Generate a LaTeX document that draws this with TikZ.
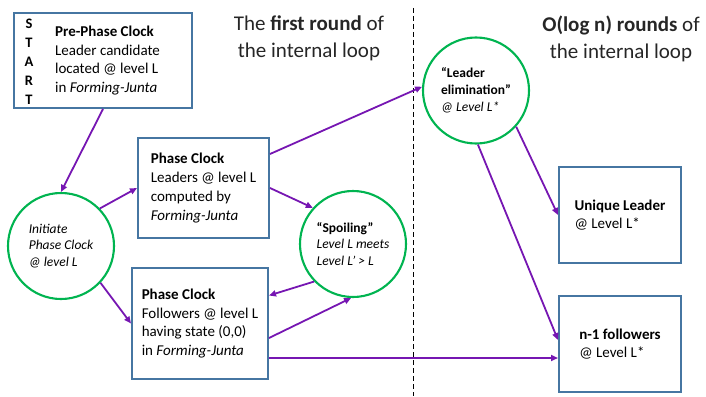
\documentclass[tikz,border=0pt]{standalone}
\usepackage{fontspec}
\setmainfont{Carlito}
\usepackage{color}
\definecolor{mypurple}{RGB}{118,22,178}
\definecolor{mygreen}{RGB}{0,180,80}
\definecolor{myblue}{RGB}{70,118,162}
\usepackage{tikz}
\usetikzlibrary{arrows.meta,positioning,calc}

\begin{document}
\begin{tikzpicture}[
  x=1pt,
  y=-1pt,
  mybox/.style={
    draw=myblue,
    line width=2pt,
    fill=white,
    align=left,
    inner sep=0pt,
    font=\fontsize{15}{18.8}\selectfont
    },
  mytext/.style={
    align=left,
    inner sep=0pt,
    font=\fontsize{15}{18.8}\selectfont
    },
  mycircle/.style={
    circle,
    draw=mygreen,
    line width=2.1pt,
    fill=white,
    minimum size=106pt,
    inner sep=0pt,
    align=left,
    font=\itshape\fontsize{13.5}{16.2}\selectfont
    },
  myarrow/.style={
    draw=mypurple,
    line width=1.8pt,
    -{Triangle[length=7pt,width=6pt]}
    },
  heading/.style={
    align=center,
    inner sep=0pt,
    text=black!85,
    font=\fontsize{21}{27}\selectfont
    }
]
\useasboundingbox (0,0) rectangle (706,396);

\draw[black, line width=1.5pt, dash pattern=on 5pt off 3pt] (413.5,8) -- (413.5,396);

\node[heading] (head1) at (309,38.5) {The \textbf{first round} of\\the internal loop};
\node[heading] (head2) at (621,38.5) {\textbf{O(log n) rounds} of\\the internal loop};

\node[mybox, minimum width=178pt, minimum height=95pt] (pre) at (103,60.5) {};
\node[mytext] (pretxt) at (107.5,60.5)
  {\textbf{Pre-Phase Clock}\\Leader candidate\\located @ level L\\in \textit{Forming-Junta}};
\node[align=center, inner sep=0pt, font=\bfseries\fontsize{14.5}{19}\selectfont]
  (start) at (29,61.5) {S\\T\\A\\R\\T};

\node[mycircle] (init) at (61,246) {Initiate\\Phase Clock\\@ level L};

\node[mybox, minimum width=131pt, minimum height=100pt] (lead) at (203.5,188)
  {\textbf{Phase Clock}\\Leaders @ level L\\computed by\\\textit{Forming-Junta}};
\node[mybox, minimum width=136pt, minimum height=111pt] (fol) at (200,323.5)
  {\textbf{Phase Clock}\\Followers @ level L\\having state (0,0)\\in \textit{Forming-Junta}};

\node[mycircle] (spoil) at (353,244)
  {\textbf{\upshape “Spoiling”}\\Level L meets\\Level L’ > L};
\node[mycircle, font=\fontsize{13.5}{17}\selectfont] (elim) at (476,90.5)
  {\textbf{“Leader}\\\textbf{elimination”}\\\textit{@ Level L*}};

\node[mybox, minimum width=122pt, minimum height=96pt] (uniq) at (620,215)
  {\textbf{Unique Leader}\\@ Level L*};
\node[mybox, minimum width=122pt, minimum height=96pt] (nfol) at (620,344)
  {\textbf{n-1 followers}\\@ Level L*};

\draw[myarrow] (pre.south) -- (init.north);
\draw[myarrow] (init.44) -- (lead.west);
\draw[myarrow] (init.-43) -- (fol.west);
\draw[myarrow] (lead.east) -- (spoil.138);
\draw[myarrow] ([yshift=34pt]lead.east) -- (elim.176);
\draw[myarrow] (spoil.-136) -- ([yshift=28pt]fol.east);
\draw[myarrow] ([yshift=-14.5pt]fol.east) -- (spoil.-92);
\draw[myarrow] ([yshift=-34.5pt]fol.east) -- ([yshift=-34.5pt]fol.east -| nfol.west);
\draw[myarrow] (elim.-42) -- (uniq.west);
\draw[myarrow] (elim.-88) -- ([yshift=4pt]nfol.west);

\end{tikzpicture}
\end{document}
